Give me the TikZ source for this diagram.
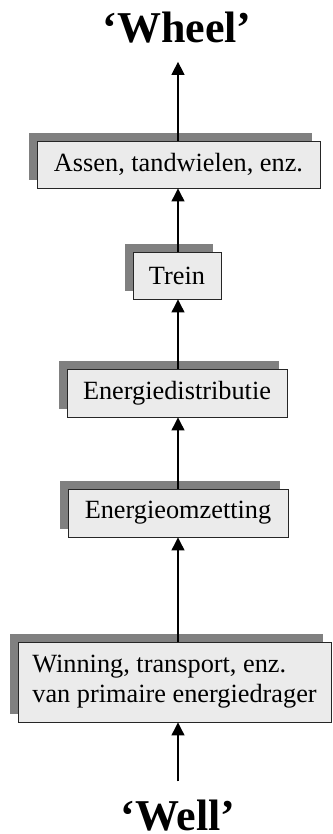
\documentclass[tikz,border=0pt]{standalone}
\usepackage{fontspec}
\setmainfont{Liberation Serif}
\usepackage{xcolor}
\usetikzlibrary{arrows.meta,shadows}

\definecolor{boxfill}{HTML}{EBEBEB}
\definecolor{boxshade}{HTML}{808080}

\begin{document}
\begin{tikzpicture}[x=1pt, y=-1pt,
    stage/.style={draw=black!85, line width=0.9pt, fill=boxfill, inner sep=0pt,
        font=\fontsize{26.3}{30}\selectfont,
        general shadow={fill=boxshade, shadow xshift=-8pt, shadow yshift=8pt}},
    flow/.style={line width=1.2pt, -{Triangle[length=13pt, width=13pt]}},
    goal/.style={inner sep=0pt, font=\fontsize{44}{48}\selectfont\bfseries}]
\useasboundingbox (0,0) rectangle (332,834);

\coordinate (axis) at (178,0);

\node[goal, anchor=base] (wheel) at (177,43) {`Wheel'};

\node[stage, minimum width=283pt, minimum height=47pt] (assen) at (178.5,164.5) {Assen, tandwielen, enz.};
\node[stage, minimum width=88pt, minimum height=47pt] (trein) at (177,275.5) {Trein};
\node[stage, minimum width=220pt, minimum height=48pt] (distributie) at (177,393) {Energiedistributie};
\node[stage, minimum width=220pt, minimum height=48pt] (omzetting) at (178,513) {Energieomzetting};
\node[stage, minimum width=313pt, minimum height=80pt, align=left] (winning) at (174.5,682)
    {Winning, transport, enz.\\van primaire energiedrager};

\node[goal, anchor=base] (well) at (178,830) {`Well'};

\draw[flow, shorten <=18pt] (well.north -| axis) -- (winning.south -| axis);
\draw[flow] (winning.north -| axis) -- (omzetting.south -| axis);
\draw[flow] (omzetting.north -| axis) -- (distributie.south -| axis);
\draw[flow] (distributie.north -| axis) -- (trein.south -| axis);
\draw[flow] (trein.north -| axis) -- (assen.south -| axis);
\draw[flow, shorten >=18pt] (assen.north -| axis) -- (wheel.south -| axis);

\end{tikzpicture}
\end{document}
